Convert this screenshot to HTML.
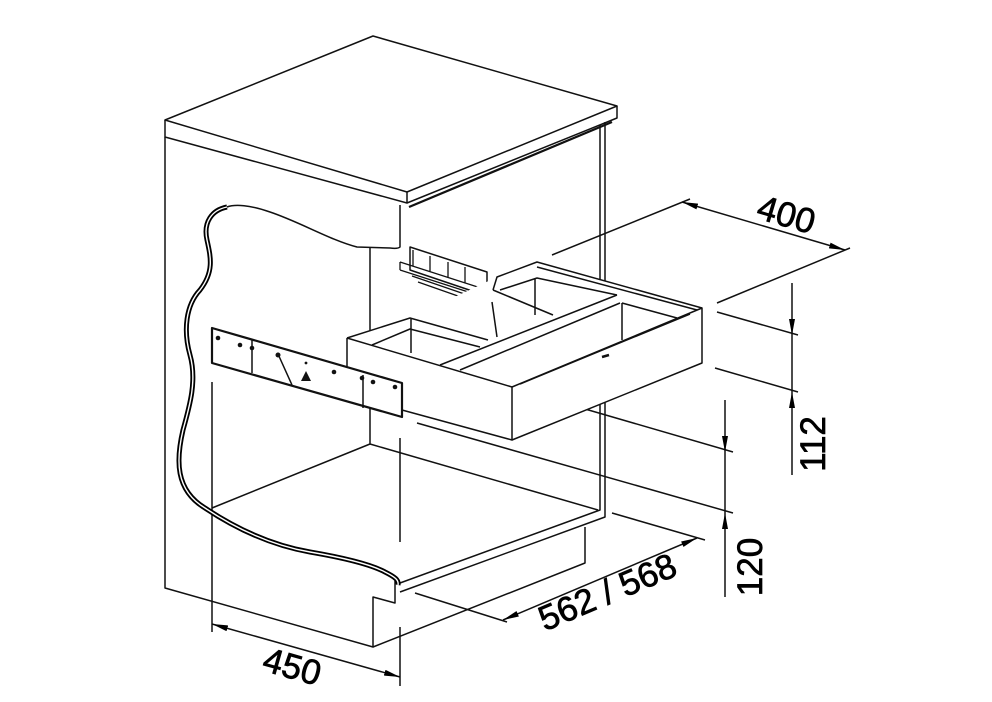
<!DOCTYPE html>
<html><head><meta charset="utf-8"><style>
html,body{margin:0;padding:0;background:#fff}
svg{display:block}
text{font-family:"Liberation Sans",Arial,sans-serif;font-size:35px;fill:#000;stroke:#000;stroke-width:0.7}
</style></head><body>
<svg width="992" height="702" viewBox="0 0 992 702" xmlns="http://www.w3.org/2000/svg">
<defs>
<marker id="a" viewBox="0 0 16 6" refX="16" refY="3" markerWidth="16" markerHeight="6" markerUnits="userSpaceOnUse" orient="auto-start-reverse">
<path d="M0,0 L16,3 L0,6 Z" fill="#000"/></marker>
</defs>
<g stroke="#111" stroke-width="1.5" fill="none" stroke-linejoin="round">
<polygon points="165,120 373,36 617,106 407,192" fill="#fff"/>
<path d="M165,120 V137 L407,203 V192 M407,203 L617,118 V106"/>
<path d="M409,207 L612,122" stroke-width="2.2"/>
<path d="M400,205 V247 Q398,249 390,248 L357,247 C330,240 300,222 270,212 C250,205 235,204 227,207"/>
<path d="M165,137 V588 L373,647 V597 L395,603 V581"/>
<path d="M373,647 L585,563 V527"/>
<path d="M600,125 V510 L400,583 M605,122 V517 L400,592"/>
<path d="M370,247 V444 L212,508 M370,444 L598,510"/>
<path d="M212,382 V632 M400,438 V542 M400,627 V686"/>
<path d="M227,207 C212,210 203,222 207,240 C211,258 214,272 200,290 C186,305 183,330 190,355 C197,380 190,405 183,430 C176,460 175,490 205,508 C235,528 270,545 310,552 C345,558 372,565 385,572 C395,577 399,580 398,585" stroke-width="5" stroke="#000"/>
<path d="M227,207 C212,210 203,222 207,240 C211,258 214,272 200,290 C186,305 183,330 190,355 C197,380 190,405 183,430 C176,460 175,490 205,508 C235,528 270,545 310,552 C345,558 372,565 385,572 C395,577 399,580 398,585" stroke-width="1.4" stroke="#fff"/>
<line x1="212" y1="624" x2="400" y2="677" marker-start="url(#a)" marker-end="url(#a)"/>
<path d="M415,593 L507,622 M612,513 L705,540"/>
<line x1="503" y1="620" x2="697" y2="538" marker-start="url(#a)" marker-end="url(#a)"/>
<path d="M530,393 L733,452 M417,423 L733,513"/>
<line x1="725" y1="400" x2="725" y2="452" marker-end="url(#a)"/>
<line x1="725" y1="597" x2="725" y2="513" marker-end="url(#a)"/>
<line x1="725" y1="452" x2="725" y2="513"/>
<path d="M717,312 L798,335 M715,368 L798,392"/>
<line x1="792" y1="283" x2="792" y2="335" marker-end="url(#a)"/>
<line x1="792" y1="475" x2="792" y2="392" marker-end="url(#a)"/>
<line x1="792" y1="335" x2="792" y2="392"/>
<path d="M552,255 L690,199 M717,303 L850,248"/>
<line x1="682" y1="202" x2="845" y2="250" marker-start="url(#a)" marker-end="url(#a)"/>
<polygon points="410,247 487,272 487,296 410,270" fill="#fff"/>
<path d="M413,250 V266 M430,256 V272 M448,262 V278 M465,267 V283 M400,262 L487,290 M400,270 L487,298 M400,262 V270 M412,276 L482,300 M418,282 L475,302" stroke-width="1.3"/>
<polygon points="347,338 410,318 497,277 537,262 702,308 702,363 512,440 402,410 347,395" fill="#fff" stroke="none"/>
<path d="M493,290 L497,277 L537,262 L702,308 M537,267 L697,310 M500,290 L537,278 L617,295 M535,278 V315 M493,290 L553,315" />
<path d="M492,302 L497,337"/>
<path d="M347,338 L512,387 V440 L402,410 M347,338 V370"/>
<path d="M512,387 L702,308 V363 L512,440"/>
<path d="M347,338 L410,318 L488,340 M372,345 L410,329 L480,347 M411,319 V353"/>
<path d="M440,365 L617,295 M460,370 L620,303 M622,303 L677,318 M520,384 L690,314 M622,303 V340"/>
<path d="M602,357 L609,355" stroke-width="2.5"/>
<polygon points="212,328 402,383 402,417 212,363" fill="#fff" stroke-width="2.2"/>
<path d="M252,340 V373 M363,375 V408 M278,354 L292,385"/>
<g fill="#111" stroke="none">
<circle cx="218" cy="338" r="2.3"/><circle cx="240" cy="345" r="2.3"/><circle cx="252" cy="348" r="2.3"/>
<circle cx="278" cy="355" r="2.5"/><circle cx="306" cy="363" r="1.4"/><circle cx="334" cy="372" r="2.3"/>
<circle cx="362" cy="378" r="2.3"/><circle cx="373" cy="382" r="2.3"/><circle cx="395" cy="387" r="2.3"/>
<path d="M306,371 L311,381 L301,381 Z"/>
</g>
</g>
<text transform="translate(783,226) rotate(16.5)" text-anchor="middle">400</text>
<text transform="translate(289,678) rotate(15.7)" text-anchor="middle">450</text>
<text transform="translate(825,444) rotate(-90)" text-anchor="middle">112</text>
<text transform="translate(762,567) rotate(-90)" text-anchor="middle">120</text>
<text transform="translate(612,603) rotate(-23)" text-anchor="middle">562 / 568</text>
</svg>
</body></html>
